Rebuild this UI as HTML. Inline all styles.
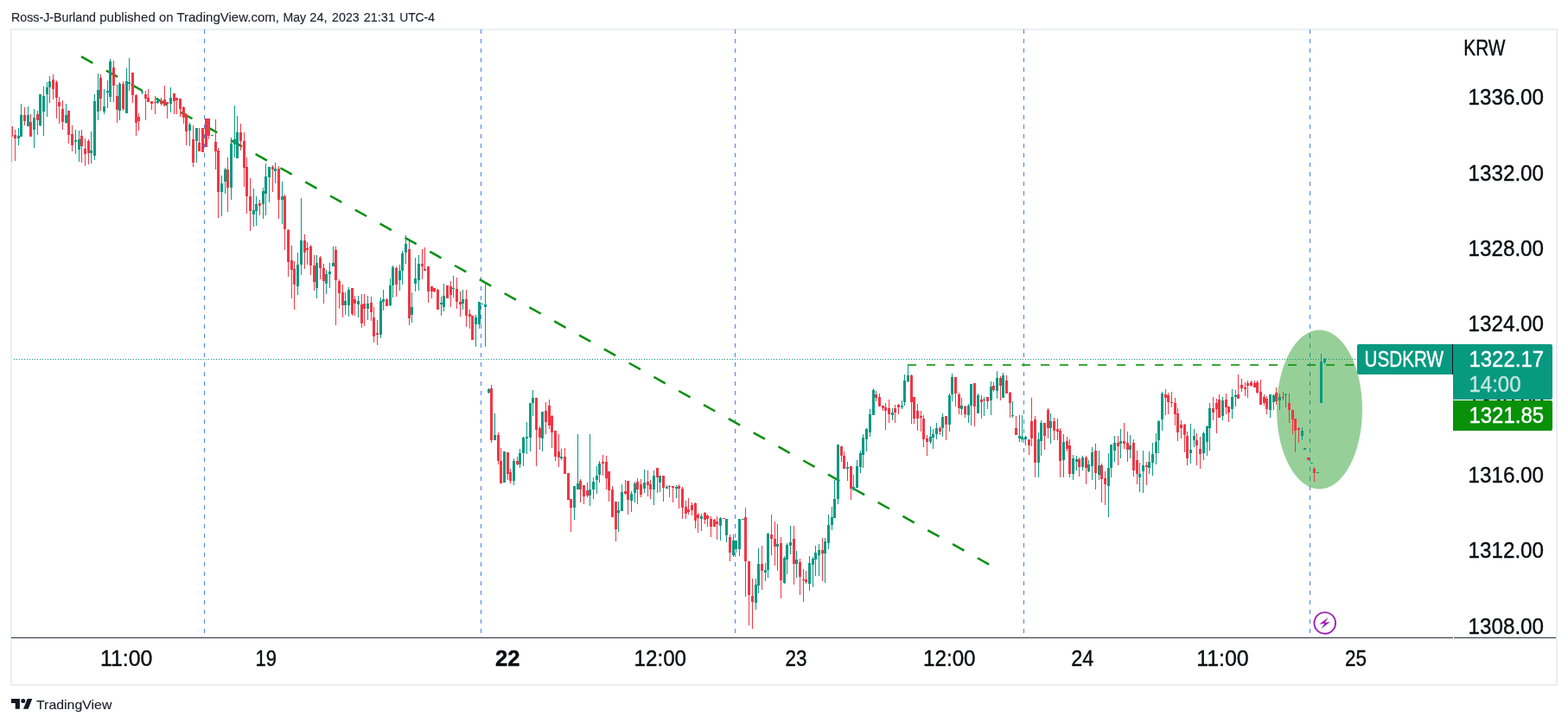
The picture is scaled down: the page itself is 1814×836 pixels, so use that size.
<!DOCTYPE html>
<html lang="en"><head><meta charset="utf-8"><title>USDKRW chart</title>
<style>
html,body{margin:0;padding:0;background:#fff;}
body{width:1814px;height:836px;overflow:hidden;font-family:"Liberation Sans",sans-serif;}
svg{display:block;}
text{font-family:"Liberation Sans",sans-serif;}
</style></head><body>
<svg width="1814" height="836" viewBox="0 0 1814 836" shape-rendering="crispEdges">
<rect width="1814" height="836" fill="#ffffff"/>
<text y="25.0" font-size="15.5" fill="#1e222d" stroke="#1e222d" stroke-width="0.15" shape-rendering="auto"><tspan x="13.0" textLength="98.0" lengthAdjust="spacingAndGlyphs">Ross-J-Burland</tspan> <tspan x="115.2" textLength="64.6" lengthAdjust="spacingAndGlyphs">published</tspan> <tspan x="184.0" textLength="16.5" lengthAdjust="spacingAndGlyphs">on</tspan> <tspan x="204.4" textLength="118.6" lengthAdjust="spacingAndGlyphs">TradingView.com,</tspan> <tspan x="327.5" textLength="26.6" lengthAdjust="spacingAndGlyphs">May</tspan> <tspan x="358.3" textLength="20.3" lengthAdjust="spacingAndGlyphs">24,</tspan> <tspan x="384.1" textLength="31.6" lengthAdjust="spacingAndGlyphs">2023</tspan> <tspan x="420.7" textLength="36.3" lengthAdjust="spacingAndGlyphs">21:31</tspan> <tspan x="462.2" textLength="40.7" lengthAdjust="spacingAndGlyphs">UTC-4</tspan></text>
<rect x="13" y="34" width="1788" height="758" fill="none" stroke="#eceef4" stroke-width="2"/>
<clipPath id="pane"><rect x="14" y="35" width="1667" height="702"/></clipPath>
<path d="M236.5 34V737" stroke="#4a83ea" stroke-width="1" stroke-dasharray="5 6" fill="none"/>
<path d="M556.5 34V737" stroke="#4a83ea" stroke-width="1" stroke-dasharray="5 6" fill="none"/>
<path d="M850.5 34V737" stroke="#4a83ea" stroke-width="1" stroke-dasharray="5 6" fill="none"/>
<path d="M1184.5 34V737" stroke="#4a83ea" stroke-width="1" stroke-dasharray="5 6" fill="none"/>
<path d="M1515.5 34V737" stroke="#4a83ea" stroke-width="1" stroke-dasharray="5 6" fill="none"/>
<g clip-path="url(#pane)">
<ellipse cx="1526.5" cy="473.5" rx="49.5" ry="92" fill="#4caf50" fill-opacity="0.59" shape-rendering="auto"/>
<path d="M94 65.4L1146.5 654" stroke="#078f10" stroke-width="2.5" stroke-dasharray="15.2 17.8" fill="none" shape-rendering="auto"/>
<path d="M1050 422H1570" stroke="#089208" stroke-opacity="0.8" stroke-width="2" stroke-dasharray="10 12" fill="none"/>
<path fill="#089981" d="M21 148h1V157h-1zM21 160h1V168h-1zM20 157h3V160h-3zM24 120h1V133h-1zM23 133h3V158h-3zM32 123h1V133h-1zM31 133h3V146h-3zM39 126h1V136h-1zM39 150h1V171h-1zM38 136h3V150h-3zM46 145h1V146h-1zM45 109h3V145h-3zM50 100h1V111h-1zM50 129h1V157h-1zM49 111h3V129h-3zM54 95h1V101h-1zM54 109h1V135h-1zM53 101h3V109h-3zM57 88h1V94h-1zM57 101h1V119h-1zM56 94h3V101h-3zM76 120h1V133h-1zM76 142h1V143h-1zM75 133h3V142h-3zM87 150h1V162h-1zM87 164h1V178h-1zM86 162h3V164h-3zM91 151h1V161h-1zM91 173h1V187h-1zM90 161h3V173h-3zM105 152h1V174h-1zM105 177h1V189h-1zM104 174h3V177h-3zM109 109h1V117h-1zM109 180h1V185h-1zM108 117h3V180h-3zM113 85h1V104h-1zM113 129h1V139h-1zM112 104h3V129h-3zM120 103h1V123h-1zM120 129h1V132h-1zM119 123h3V129h-3zM124 93h1V105h-1zM124 107h1V125h-1zM123 105h3V107h-3zM127 68h1V71h-1zM127 112h1V118h-1zM126 71h3V112h-3zM138 95h1V97h-1zM138 128h1V139h-1zM137 97h3V128h-3zM146 79h1V94h-1zM145 94h3V131h-3zM149 67h1V95h-1zM149 97h1V105h-1zM148 95h3V97h-3zM164 105h1V106h-1zM164 107h1V109h-1zM163 106h3V107h-3zM182 113h1V115h-1zM182 119h1V120h-1zM181 115h3V119h-3zM197 101h1V113h-1zM197 120h1V130h-1zM196 113h3V120h-3zM219 142h1V144h-1zM219 151h1V169h-1zM218 144h3V151h-3zM227 163h1V188h-1zM226 148h3V163h-3zM244 156h3V157h-3zM256 203h1V212h-1zM256 222h1V250h-1zM255 212h3V222h-3zM260 194h1V196h-1zM260 210h1V224h-1zM259 196h3V210h-3zM267 159h1V166h-1zM267 217h1V231h-1zM266 166h3V217h-3zM271 122h1V161h-1zM271 167h1V182h-1zM270 161h3V167h-3zM274 134h1V153h-1zM273 153h3V183h-3zM293 218h1V243h-1zM293 248h1V262h-1zM292 243h3V248h-3zM296 227h1V236h-1zM296 244h1V261h-1zM295 236h3V244h-3zM304 217h1V221h-1zM304 236h1V253h-1zM303 221h3V236h-3zM307 189h1V204h-1zM307 224h1V249h-1zM306 204h3V224h-3zM311 205h1V234h-1zM310 193h3V205h-3zM318 188h1V195h-1zM318 198h1V212h-1zM317 195h3V198h-3zM326 210h1V227h-1zM326 231h1V259h-1zM325 227h3V231h-3zM344 292h1V306h-1zM344 331h1V341h-1zM343 306h3V331h-3zM348 229h1V278h-1zM348 306h1V318h-1zM347 278h3V306h-3zM366 295h1V304h-1zM366 333h1V345h-1zM365 304h3V333h-3zM377 312h1V317h-1zM377 328h1V340h-1zM376 317h3V328h-3zM381 304h1V314h-1zM381 317h1V333h-1zM380 314h3V317h-3zM385 285h1V304h-1zM384 304h3V308h-3zM399 338h1V348h-1zM399 353h1V364h-1zM398 348h3V353h-3zM403 332h1V335h-1zM403 353h1V366h-1zM402 335h3V353h-3zM414 342h1V348h-1zM414 352h1V367h-1zM413 348h3V352h-3zM425 342h1V351h-1zM425 357h1V370h-1zM424 351h3V357h-3zM440 344h1V348h-1zM440 387h1V391h-1zM439 348h3V387h-3zM443 335h1V346h-1zM443 349h1V359h-1zM442 346h3V349h-3zM451 322h1V330h-1zM451 353h1V354h-1zM450 330h3V353h-3zM454 307h1V309h-1zM454 330h1V344h-1zM453 309h3V330h-3zM462 306h1V313h-1zM462 324h1V336h-1zM461 313h3V324h-3zM465 290h1V293h-1zM465 313h1V329h-1zM464 293h3V313h-3zM469 272h1V282h-1zM469 292h1V305h-1zM468 282h3V292h-3zM476 338h1V355h-1zM476 364h1V373h-1zM475 355h3V364h-3zM480 298h1V322h-1zM480 328h1V337h-1zM479 322h3V328h-3zM484 295h1V305h-1zM484 324h1V336h-1zM483 305h3V324h-3zM510 343h1V350h-1zM510 352h1V365h-1zM509 350h3V352h-3zM513 328h1V342h-1zM513 355h1V360h-1zM512 342h3V355h-3zM524 319h1V333h-1zM524 334h1V344h-1zM523 333h3V334h-3zM535 335h1V346h-1zM535 351h1V358h-1zM534 346h3V351h-3zM550 364h1V367h-1zM550 375h1V401h-1zM549 367h3V375h-3zM554 375h1V380h-1zM553 349h3V375h-3zM556 351h3V352h-3zM561 326h1V352h-1zM561 355h1V401h-1zM560 352h3V355h-3zM565 449h1V450h-1zM565 454h1V455h-1zM564 450h3V454h-3zM572 478h1V503h-1zM571 503h3V509h-3zM582 522h3V558h-3zM594 530h1V533h-1zM594 556h1V561h-1zM593 533h3V556h-3zM601 519h1V524h-1zM601 537h1V541h-1zM600 524h3V537h-3zM605 505h1V506h-1zM605 524h1V539h-1zM604 506h3V524h-3zM609 488h1V505h-1zM609 507h1V525h-1zM608 505h3V507h-3zM613 506h1V522h-1zM612 466h3V506h-3zM616 451h1V460h-1zM616 466h1V481h-1zM615 460h3V466h-3zM627 507h1V522h-1zM626 476h3V507h-3zM649 519h1V528h-1zM649 530h1V532h-1zM648 528h3V530h-3zM664 587h1V601h-1zM663 562h3V587h-3zM668 502h1V559h-1zM667 559h3V566h-3zM682 502h1V566h-1zM682 573h1V585h-1zM681 566h3V573h-3zM686 552h1V557h-1zM686 566h1V577h-1zM685 557h3V566h-3zM690 539h1V550h-1zM690 555h1V571h-1zM689 550h3V555h-3zM693 533h1V536h-1zM693 549h1V558h-1zM692 536h3V549h-3zM715 580h1V590h-1zM715 593h1V615h-1zM714 590h3V593h-3zM719 560h1V569h-1zM718 569h3V591h-3zM730 568h1V571h-1zM730 579h1V592h-1zM729 571h3V579h-3zM734 557h1V559h-1zM734 570h1V581h-1zM733 559h3V570h-3zM745 543h1V558h-1zM745 565h1V570h-1zM744 558h3V565h-3zM756 544h1V550h-1zM756 566h1V584h-1zM755 550h3V566h-3zM763 558h1V569h-1zM762 550h3V558h-3zM771 561h1V563h-1zM770 563h3V565h-3zM782 561h1V563h-1zM782 565h1V576h-1zM781 563h3V565h-3zM811 594h1V597h-1zM811 600h1V614h-1zM810 597h3V600h-3zM833 598h1V599h-1zM833 608h1V625h-1zM832 599h3V608h-3zM840 619h1V627h-1zM839 600h3V619h-3zM848 618h1V625h-1zM848 642h1V644h-1zM847 625h3V642h-3zM851 635h1V639h-1zM850 625h3V635h-3zM855 635h1V643h-1zM854 600h3V635h-3zM858 600h3V601h-3zM874 669h1V676h-1zM874 697h1V705h-1zM873 676h3V697h-3zM877 634h1V652h-1zM877 677h1V686h-1zM876 652h3V677h-3zM885 651h1V659h-1zM885 662h1V672h-1zM884 659h3V662h-3zM888 616h1V617h-1zM888 659h1V668h-1zM887 617h3V659h-3zM899 606h1V629h-1zM899 632h1V660h-1zM898 629h3V632h-3zM907 643h1V645h-1zM907 674h1V675h-1zM906 645h3V674h-3zM910 628h1V630h-1zM910 647h1V664h-1zM909 630h3V647h-3zM914 608h1V627h-1zM914 631h1V641h-1zM913 627h3V631h-3zM921 637h1V647h-1zM921 652h1V668h-1zM920 647h3V652h-3zM936 643h1V651h-1zM936 675h1V683h-1zM935 651h3V675h-3zM940 644h1V646h-1zM940 653h1V679h-1zM939 646h3V653h-3zM943 631h1V639h-1zM943 647h1V666h-1zM942 639h3V647h-3zM947 629h1V636h-1zM947 642h1V666h-1zM946 636h3V642h-3zM954 622h1V626h-1zM954 640h1V674h-1zM953 626h3V640h-3zM958 595h1V607h-1zM958 628h1V635h-1zM957 607h3V628h-3zM962 586h1V598h-1zM962 607h1V613h-1zM961 598h3V607h-3zM965 555h1V577h-1zM964 577h3V599h-3zM969 577h1V583h-1zM968 514h3V577h-3zM980 534h1V540h-1zM980 542h1V556h-1zM979 540h3V542h-3zM987 549h1V563h-1zM986 563h3V567h-3zM991 532h1V539h-1zM990 539h3V564h-3zM995 521h1V524h-1zM995 540h1V547h-1zM994 524h3V540h-3zM998 502h1V506h-1zM998 526h1V541h-1zM997 506h3V526h-3zM1002 495h1V496h-1zM1002 508h1V522h-1zM1001 496h3V508h-3zM1006 473h1V479h-1zM1006 500h1V505h-1zM1005 479h3V500h-3zM1010 449h1V451h-1zM1009 451h3V480h-3zM1032 472h1V477h-1zM1032 480h1V486h-1zM1031 477h3V480h-3zM1043 463h1V469h-1zM1043 471h1V473h-1zM1042 469h3V471h-3zM1046 433h1V440h-1zM1046 465h1V469h-1zM1045 440h3V465h-3zM1050 421h1V434h-1zM1050 441h1V442h-1zM1049 434h3V441h-3zM1076 493h1V505h-1zM1076 511h1V513h-1zM1075 505h3V511h-3zM1079 496h1V502h-1zM1079 506h1V519h-1zM1078 502h3V506h-3zM1083 489h1V495h-1zM1083 502h1V508h-1zM1082 495h3V502h-3zM1090 478h1V482h-1zM1090 495h1V505h-1zM1089 482h3V495h-3zM1098 455h1V457h-1zM1098 491h1V499h-1zM1097 457h3V491h-3zM1101 432h1V436h-1zM1101 456h1V464h-1zM1100 436h3V456h-3zM1112 460h1V469h-1zM1112 473h1V480h-1zM1111 469h3V473h-3zM1120 467h1V469h-1zM1120 480h1V489h-1zM1119 469h3V480h-3zM1123 469h1V492h-1zM1122 444h3V469h-3zM1131 455h1V457h-1zM1130 457h3V478h-3zM1138 459h1V462h-1zM1138 463h1V481h-1zM1137 462h3V463h-3zM1146 441h1V447h-1zM1146 463h1V480h-1zM1145 447h3V463h-3zM1153 429h1V437h-1zM1153 452h1V461h-1zM1152 437h3V452h-3zM1160 431h1V434h-1zM1159 434h3V460h-3zM1171 464h1V480h-1zM1171 481h1V483h-1zM1170 480h3V481h-3zM1179 480h1V504h-1zM1179 507h1V511h-1zM1178 504h3V507h-3zM1182 480h1V505h-1zM1182 508h1V511h-1zM1181 505h3V508h-3zM1186 504h1V505h-1zM1186 508h1V515h-1zM1185 505h3V508h-3zM1201 500h1V508h-1zM1201 535h1V552h-1zM1200 508h3V535h-3zM1204 486h1V489h-1zM1204 510h1V527h-1zM1203 489h3V510h-3zM1215 478h1V487h-1zM1215 495h1V513h-1zM1214 487h3V495h-3zM1230 502h1V511h-1zM1230 532h1V552h-1zM1229 511h3V532h-3zM1241 526h1V530h-1zM1241 548h1V555h-1zM1240 530h3V548h-3zM1245 527h1V531h-1zM1245 534h1V544h-1zM1244 531h3V534h-3zM1252 527h1V529h-1zM1252 540h1V544h-1zM1251 529h3V540h-3zM1259 532h1V537h-1zM1259 545h1V546h-1zM1258 537h3V545h-3zM1263 517h1V523h-1zM1263 539h1V555h-1zM1262 523h3V539h-3zM1271 521h1V538h-1zM1271 549h1V555h-1zM1270 538h3V549h-3zM1282 524h1V541h-1zM1282 562h1V598h-1zM1281 541h3V562h-3zM1285 541h1V552h-1zM1284 514h3V541h-3zM1289 504h1V512h-1zM1289 521h1V534h-1zM1288 512h3V521h-3zM1296 496h1V510h-1zM1296 513h1V530h-1zM1295 510h3V513h-3zM1307 503h1V515h-1zM1307 520h1V530h-1zM1306 515h3V520h-3zM1318 535h1V548h-1zM1318 552h1V569h-1zM1317 548h3V552h-3zM1322 521h1V538h-1zM1322 545h1V570h-1zM1321 538h3V545h-3zM1329 522h1V534h-1zM1329 541h1V548h-1zM1328 534h3V541h-3zM1333 512h1V525h-1zM1333 535h1V550h-1zM1332 525h3V535h-3zM1337 501h1V511h-1zM1337 524h1V537h-1zM1336 511h3V524h-3zM1340 486h1V487h-1zM1340 509h1V524h-1zM1339 487h3V509h-3zM1344 453h1V455h-1zM1344 485h1V498h-1zM1343 455h3V485h-3zM1377 490h1V520h-1zM1377 524h1V536h-1zM1376 520h3V524h-3zM1381 496h1V504h-1zM1381 509h1V517h-1zM1380 504h3V509h-3zM1392 499h1V501h-1zM1392 524h1V532h-1zM1391 501h3V524h-3zM1396 492h1V493h-1zM1396 511h1V527h-1zM1395 493h3V511h-3zM1399 466h1V472h-1zM1399 495h1V521h-1zM1398 472h3V495h-3zM1414 459h1V463h-1zM1414 481h1V486h-1zM1413 463h3V481h-3zM1425 450h1V459h-1zM1425 473h1V484h-1zM1424 459h3V473h-3zM1429 451h1V457h-1zM1429 459h1V470h-1zM1428 457h3V459h-3zM1469 474h1V483h-1zM1468 456h3V474h-3zM1473 456h1V457h-1zM1473 465h1V474h-1zM1472 457h3V465h-3zM1480 455h1V459h-1zM1480 463h1V474h-1zM1479 459h3V463h-3zM1487 455h1V456h-1zM1487 457h1V471h-1zM1486 456h3V457h-3zM1506 494h1V498h-1zM1506 504h1V509h-1zM1505 498h3V504h-3zM1508 518h3V520h-3zM1516 535h3V536h-3zM1523 546h3V547h-3zM1528 409h1V418h-1zM1527 418h3V466h-3zM1532 414h1V415h-1zM1532 419h1V421h-1zM1531 415h3V419h-3z"/>
<path fill="#f23645" d="M17 150h1V156h-1zM17 160h1V186h-1zM16 156h3V160h-3zM28 124h1V133h-1zM28 140h1V145h-1zM27 133h3V140h-3zM35 132h1V141h-1zM34 141h3V158h-3zM43 128h1V132h-1zM43 139h1V156h-1zM42 132h3V139h-3zM61 86h1V92h-1zM61 103h1V115h-1zM60 92h3V103h-3zM65 93h1V95h-1zM65 113h1V137h-1zM64 95h3V113h-3zM68 112h1V118h-1zM68 123h1V143h-1zM67 118h3V123h-3zM72 116h1V126h-1zM72 141h1V150h-1zM71 126h3V141h-3zM79 156h1V166h-1zM78 128h3V156h-3zM83 145h1V155h-1zM83 168h1V175h-1zM82 155h3V168h-3zM94 150h1V157h-1zM94 169h1V188h-1zM93 157h3V169h-3zM98 160h1V172h-1zM98 178h1V192h-1zM97 172h3V178h-3zM102 161h1V163h-1zM102 177h1V190h-1zM101 163h3V177h-3zM116 86h1V90h-1zM116 114h1V128h-1zM115 90h3V114h-3zM131 70h1V78h-1zM131 99h1V118h-1zM130 78h3V99h-3zM135 98h1V111h-1zM135 127h1V142h-1zM134 111h3V127h-3zM142 94h1V97h-1zM142 126h1V128h-1zM141 97h3V126h-3zM153 110h1V119h-1zM152 84h3V110h-3zM157 109h1V110h-1zM157 142h1V157h-1zM156 110h3V142h-3zM160 131h1V135h-1zM160 140h1V151h-1zM159 135h3V140h-3zM168 105h1V109h-1zM168 114h1V139h-1zM167 109h3V114h-3zM171 103h1V113h-1zM170 113h3V118h-3zM175 120h1V127h-1zM174 117h3V120h-3zM179 111h1V118h-1zM179 119h1V132h-1zM178 118h3V119h-3zM186 113h1V116h-1zM186 120h1V122h-1zM185 116h3V120h-3zM190 99h1V115h-1zM190 122h1V123h-1zM189 115h3V122h-3zM193 120h1V137h-1zM192 118h3V120h-3zM201 117h1V132h-1zM200 108h3V117h-3zM204 116h1V132h-1zM203 113h3V116h-3zM208 126h1V135h-1zM207 114h3V126h-3zM212 123h1V124h-1zM212 136h1V143h-1zM211 124h3V136h-3zM215 131h1V134h-1zM215 152h1V168h-1zM214 134h3V152h-3zM223 145h1V161h-1zM223 188h1V193h-1zM222 161h3V188h-3zM230 148h1V165h-1zM229 165h3V175h-3zM233 148h3V176h-3zM237 137h3V170h-3zM241 157h1V161h-1zM240 137h3V157h-3zM249 138h1V164h-1zM249 175h1V196h-1zM248 164h3V175h-3zM252 171h1V174h-1zM252 222h1V252h-1zM251 174h3V222h-3zM263 182h1V196h-1zM263 217h1V245h-1zM262 196h3V217h-3zM278 143h1V153h-1zM278 163h1V174h-1zM277 153h3V163h-3zM282 153h1V163h-1zM282 194h1V216h-1zM281 163h3V194h-3zM285 182h1V193h-1zM285 227h1V247h-1zM284 193h3V227h-3zM289 206h1V227h-1zM289 244h1V267h-1zM288 227h3V244h-3zM300 231h1V235h-1zM300 238h1V249h-1zM299 235h3V238h-3zM315 191h1V193h-1zM315 196h1V222h-1zM314 193h3V196h-3zM322 192h1V195h-1zM322 231h1V253h-1zM321 195h3V231h-3zM329 225h1V227h-1zM329 265h1V289h-1zM328 227h3V265h-3zM333 265h1V266h-1zM333 303h1V320h-1zM332 266h3V303h-3zM337 284h1V301h-1zM337 312h1V345h-1zM336 301h3V312h-3zM340 302h1V311h-1zM340 329h1V358h-1zM339 311h3V329h-3zM352 271h1V278h-1zM352 292h1V311h-1zM351 278h3V292h-3zM355 280h1V287h-1zM355 289h1V306h-1zM354 287h3V289h-3zM359 283h1V285h-1zM359 307h1V318h-1zM358 285h3V307h-3zM363 295h1V307h-1zM363 326h1V336h-1zM362 307h3V326h-3zM370 296h1V298h-1zM370 310h1V323h-1zM369 298h3V310h-3zM374 305h1V310h-1zM374 325h1V351h-1zM373 310h3V325h-3zM388 285h1V289h-1zM388 324h1V376h-1zM387 289h3V324h-3zM392 323h1V325h-1zM392 339h1V357h-1zM391 325h3V339h-3zM396 329h1V338h-1zM396 353h1V367h-1zM395 338h3V353h-3zM407 363h1V365h-1zM406 333h3V363h-3zM410 342h1V346h-1zM410 351h1V365h-1zM409 346h3V351h-3zM418 340h1V352h-1zM418 374h1V379h-1zM417 352h3V374h-3zM421 340h1V351h-1zM421 357h1V377h-1zM420 351h3V357h-3zM429 343h1V350h-1zM429 361h1V371h-1zM428 350h3V361h-3zM432 355h1V367h-1zM432 389h1V396h-1zM431 367h3V389h-3zM436 370h1V385h-1zM436 387h1V399h-1zM435 385h3V387h-3zM447 345h1V346h-1zM446 346h3V354h-3zM458 308h1V310h-1zM458 329h1V343h-1zM457 310h3V329h-3zM473 279h1V288h-1zM473 368h1V376h-1zM472 288h3V368h-3zM488 288h1V305h-1zM488 308h1V323h-1zM487 305h3V308h-3zM491 286h1V311h-1zM490 311h3V313h-3zM495 337h1V350h-1zM494 308h3V337h-3zM499 337h1V345h-1zM498 331h3V337h-3zM502 337h1V338h-1zM501 333h3V337h-3zM506 334h1V335h-1zM505 335h3V358h-3zM516 330h3V345h-3zM521 325h1V331h-1zM521 341h1V355h-1zM520 331h3V341h-3zM528 321h1V334h-1zM528 349h1V357h-1zM527 334h3V349h-3zM532 337h1V349h-1zM532 352h1V366h-1zM531 349h3V352h-3zM539 335h1V346h-1zM539 365h1V378h-1zM538 346h3V365h-3zM543 358h1V363h-1zM543 366h1V380h-1zM542 363h3V366h-3zM545 365h3V393h-3zM568 445h1V449h-1zM568 509h1V512h-1zM567 449h3V509h-3zM576 500h1V503h-1zM576 533h1V537h-1zM575 503h3V533h-3zM579 518h1V533h-1zM578 533h3V559h-3zM587 548h1V555h-1zM586 523h3V548h-3zM590 542h1V546h-1zM590 556h1V559h-1zM589 546h3V556h-3zM598 528h1V533h-1zM598 537h1V538h-1zM597 533h3V537h-3zM620 497h1V539h-1zM619 460h3V497h-3zM624 493h1V495h-1zM624 506h1V520h-1zM623 495h3V506h-3zM631 465h1V475h-1zM631 488h1V502h-1zM630 475h3V488h-3zM635 462h1V469h-1zM635 492h1V496h-1zM634 469h3V492h-3zM638 480h1V481h-1zM638 500h1V518h-1zM637 481h3V500h-3zM642 528h1V533h-1zM641 498h3V528h-3zM646 502h1V522h-1zM646 529h1V540h-1zM645 522h3V529h-3zM653 518h1V528h-1zM652 528h3V548h-3zM656 547h3V578h-3zM660 587h1V615h-1zM659 577h3V587h-3zM671 554h1V556h-1zM671 566h1V581h-1zM670 556h3V566h-3zM675 574h1V583h-1zM674 561h3V574h-3zM679 558h1V567h-1zM679 573h1V575h-1zM678 567h3V573h-3zM697 526h1V534h-1zM697 536h1V550h-1zM696 534h3V536h-3zM701 527h1V534h-1zM701 553h1V566h-1zM700 534h3V553h-3zM704 567h1V580h-1zM703 545h3V567h-3zM708 562h1V566h-1zM707 566h3V598h-3zM712 612h1V626h-1zM711 580h3V612h-3zM723 555h1V568h-1zM723 571h1V572h-1zM722 568h3V571h-3zM726 578h1V595h-1zM725 556h3V578h-3zM737 553h1V557h-1zM737 566h1V583h-1zM736 557h3V566h-3zM741 554h1V560h-1zM741 572h1V575h-1zM740 560h3V572h-3zM749 544h1V557h-1zM749 561h1V574h-1zM748 557h3V561h-3zM752 555h1V560h-1zM752 566h1V577h-1zM751 560h3V566h-3zM760 552h1V570h-1zM759 541h3V552h-3zM767 564h1V580h-1zM766 550h3V564h-3zM774 561h1V562h-1zM774 563h1V575h-1zM773 562h3V563h-3zM778 564h1V581h-1zM777 562h3V564h-3zM785 560h1V562h-1zM785 565h1V588h-1zM784 562h3V565h-3zM789 563h1V565h-1zM789 587h1V600h-1zM788 565h3V587h-3zM793 579h1V586h-1zM793 594h1V600h-1zM792 586h3V594h-3zM796 576h1V589h-1zM796 592h1V595h-1zM795 589h3V592h-3zM800 581h1V584h-1zM800 590h1V596h-1zM799 584h3V590h-3zM804 581h1V582h-1zM804 602h1V611h-1zM803 582h3V602h-3zM807 593h1V595h-1zM807 599h1V616h-1zM806 595h3V599h-3zM815 592h1V593h-1zM815 601h1V606h-1zM814 593h3V601h-3zM818 595h1V596h-1zM818 600h1V609h-1zM817 596h3V600h-3zM822 597h1V600h-1zM822 609h1V621h-1zM821 600h3V609h-3zM826 600h1V601h-1zM825 601h3V609h-3zM829 597h1V603h-1zM829 606h1V624h-1zM828 603h3V606h-3zM836 599h3V600h-3zM844 618h1V621h-1zM844 639h1V649h-1zM843 621h3V639h-3zM862 587h1V598h-1zM862 649h1V690h-1zM861 598h3V649h-3zM866 688h1V723h-1zM865 649h3V688h-3zM870 669h1V689h-1zM870 696h1V727h-1zM869 689h3V696h-3zM881 631h1V652h-1zM881 660h1V682h-1zM880 652h3V660h-3zM892 595h1V618h-1zM892 623h1V642h-1zM891 618h3V623h-3zM896 603h1V623h-1zM896 632h1V654h-1zM895 623h3V632h-3zM903 621h1V628h-1zM903 671h1V692h-1zM902 628h3V671h-3zM918 608h1V623h-1zM918 652h1V676h-1zM917 623h3V652h-3zM925 646h1V650h-1zM925 667h1V688h-1zM924 650h3V667h-3zM929 658h1V670h-1zM929 671h1V696h-1zM928 670h3V671h-3zM932 660h1V670h-1zM932 673h1V675h-1zM931 670h3V673h-3zM951 622h1V636h-1zM951 640h1V672h-1zM950 636h3V640h-3zM973 527h1V534h-1zM972 516h3V527h-3zM976 522h1V527h-1zM975 527h3V542h-3zM984 565h1V578h-1zM983 539h3V565h-3zM1013 452h1V456h-1zM1013 460h1V464h-1zM1012 456h3V460h-3zM1017 455h1V459h-1zM1016 459h3V470h-3zM1021 472h1V475h-1zM1020 469h3V472h-3zM1024 466h1V471h-1zM1024 475h1V497h-1zM1023 471h3V475h-3zM1028 462h1V472h-1zM1028 479h1V489h-1zM1027 472h3V479h-3zM1035 468h1V472h-1zM1035 477h1V489h-1zM1034 472h3V477h-3zM1039 467h1V468h-1zM1039 471h1V479h-1zM1038 468h3V471h-3zM1054 433h1V434h-1zM1054 465h1V490h-1zM1053 434h3V465h-3zM1057 484h1V490h-1zM1056 459h3V484h-3zM1061 467h1V475h-1zM1061 484h1V498h-1zM1060 475h3V484h-3zM1065 475h1V481h-1zM1065 483h1V499h-1zM1064 481h3V483h-3zM1068 480h1V484h-1zM1068 508h1V517h-1zM1067 484h3V508h-3zM1072 503h1V507h-1zM1072 511h1V527h-1zM1071 507h3V511h-3zM1087 493h1V495h-1zM1087 499h1V503h-1zM1086 495h3V499h-3zM1094 491h1V509h-1zM1093 481h3V491h-3zM1105 455h1V470h-1zM1104 436h3V455h-3zM1109 454h1V456h-1zM1109 472h1V479h-1zM1108 456h3V472h-3zM1116 469h1V470h-1zM1116 479h1V483h-1zM1115 470h3V479h-3zM1127 470h1V493h-1zM1126 443h3V470h-3zM1135 457h1V462h-1zM1135 465h1V484h-1zM1134 462h3V465h-3zM1142 464h1V473h-1zM1141 459h3V464h-3zM1149 442h1V446h-1zM1149 451h1V453h-1zM1148 446h3V451h-3zM1157 435h1V437h-1zM1157 446h1V463h-1zM1156 437h3V446h-3zM1164 434h1V440h-1zM1163 440h3V455h-3zM1168 453h1V454h-1zM1168 466h1V483h-1zM1167 454h3V466h-3zM1175 481h1V495h-1zM1174 495h3V503h-3zM1190 515h1V526h-1zM1189 508h3V515h-3zM1193 460h1V487h-1zM1193 507h1V516h-1zM1192 487h3V507h-3zM1197 481h1V485h-1zM1197 535h1V552h-1zM1196 485h3V535h-3zM1208 504h1V520h-1zM1207 489h3V504h-3zM1212 472h1V474h-1zM1212 495h1V507h-1zM1211 474h3V495h-3zM1219 483h1V487h-1zM1219 498h1V509h-1zM1218 487h3V498h-3zM1223 484h1V496h-1zM1223 499h1V509h-1zM1222 496h3V499h-3zM1226 495h1V498h-1zM1226 533h1V552h-1zM1225 498h3V533h-3zM1234 505h1V510h-1zM1234 519h1V522h-1zM1233 510h3V519h-3zM1237 508h1V515h-1zM1237 548h1V552h-1zM1236 515h3V548h-3zM1248 529h1V531h-1zM1248 540h1V551h-1zM1247 531h3V540h-3zM1256 527h1V529h-1zM1256 541h1V560h-1zM1255 529h3V541h-3zM1267 513h1V521h-1zM1267 547h1V566h-1zM1266 521h3V547h-3zM1274 536h1V538h-1zM1274 554h1V581h-1zM1273 538h3V554h-3zM1278 545h1V553h-1zM1278 560h1V584h-1zM1277 553h3V560h-3zM1293 504h1V512h-1zM1293 516h1V538h-1zM1292 512h3V516h-3zM1300 489h1V510h-1zM1300 513h1V519h-1zM1299 510h3V513h-3zM1304 499h1V512h-1zM1304 520h1V534h-1zM1303 512h3V520h-3zM1311 508h1V512h-1zM1311 544h1V551h-1zM1310 512h3V544h-3zM1315 521h1V532h-1zM1315 548h1V560h-1zM1314 532h3V548h-3zM1326 534h1V538h-1zM1326 540h1V561h-1zM1325 538h3V540h-3zM1348 450h1V456h-1zM1348 460h1V480h-1zM1347 456h3V460h-3zM1351 454h1V457h-1zM1351 465h1V479h-1zM1350 457h3V465h-3zM1355 453h1V465h-1zM1355 466h1V471h-1zM1354 465h3V466h-3zM1359 460h1V466h-1zM1359 479h1V492h-1zM1358 466h3V479h-3zM1362 472h1V478h-1zM1362 500h1V510h-1zM1361 478h3V500h-3zM1366 486h1V491h-1zM1366 495h1V507h-1zM1365 491h3V495h-3zM1370 490h1V491h-1zM1370 503h1V523h-1zM1369 491h3V503h-3zM1373 499h1V504h-1zM1373 530h1V538h-1zM1372 504h3V530h-3zM1384 501h1V509h-1zM1384 515h1V538h-1zM1383 509h3V515h-3zM1388 505h1V519h-1zM1388 525h1V542h-1zM1387 519h3V525h-3zM1403 459h1V472h-1zM1403 477h1V486h-1zM1402 472h3V477h-3zM1407 461h1V466h-1zM1407 473h1V501h-1zM1406 466h3V473h-3zM1410 456h1V462h-1zM1409 462h3V483h-3zM1418 455h1V462h-1zM1418 471h1V479h-1zM1417 462h3V471h-3zM1421 477h1V488h-1zM1420 470h3V477h-3zM1432 433h1V456h-1zM1431 456h3V461h-3zM1436 438h1V445h-1zM1436 449h1V453h-1zM1435 445h3V449h-3zM1440 442h1V448h-1zM1440 450h1V458h-1zM1439 448h3V450h-3zM1443 440h1V443h-1zM1443 446h1V460h-1zM1442 443h3V446h-3zM1447 440h1V442h-1zM1447 446h1V447h-1zM1446 442h3V446h-3zM1451 440h1V443h-1zM1450 443h3V448h-3zM1454 440h1V442h-1zM1454 454h1V455h-1zM1453 442h3V454h-3zM1458 439h1V453h-1zM1457 453h3V468h-3zM1462 456h1V459h-1zM1462 466h1V469h-1zM1461 459h3V466h-3zM1465 458h1V461h-1zM1465 473h1V479h-1zM1464 461h3V473h-3zM1476 448h1V454h-1zM1476 464h1V468h-1zM1475 454h3V464h-3zM1484 453h1V459h-1zM1484 460h1V463h-1zM1483 459h3V460h-3zM1491 455h1V466h-1zM1491 474h1V489h-1zM1490 466h3V474h-3zM1495 485h1V502h-1zM1494 474h3V485h-3zM1498 498h1V523h-1zM1497 484h3V498h-3zM1502 494h1V495h-1zM1502 497h1V512h-1zM1501 495h3V497h-3zM1512 529h3V532h-3zM1520 540h1V542h-1zM1520 547h1V557h-1zM1519 542h3V547h-3z"/>
<rect x="14" y="146" width="1" height="12" fill="#f23645"/>
<path d="M14 415.5H1570" stroke="#089981" stroke-width="1" stroke-dasharray="1 2" stroke-dashoffset="-2" fill="none"/>
</g>
<rect x="13" y="146" width="1" height="41" fill="#f5939c"/>
<clipPath id="ell"><ellipse cx="1526.5" cy="473.5" rx="49.5" ry="92"/></clipPath>
<path d="M1515.5 34V737" stroke="#1d8a86" stroke-opacity="0.75" stroke-width="1" stroke-dasharray="5 6" fill="none" clip-path="url(#ell)"/>
<g shape-rendering="auto" fill="none" stroke="#9a24b2">
<circle cx="1532.75" cy="720.4" r="12.3" stroke-width="1.9"/>
<path d="M1536.8 713.7L1526.2 721.7L1532.3 721.1L1528.3 727.2L1538.9 719.1L1532.9 719.7z" fill="#9a24b2" stroke="none"/>
</g>
<rect x="13" y="737" width="1668" height="1" fill="#2a2e39"/>
<rect x="1682" y="737" width="118" height="1" fill="#2a2e39"/>
<text x="1693.3" y="64.0" font-size="25.8" fill="#0b0d13" stroke="#0b0d13" stroke-width="0.4" font-weight="normal" textLength="48.2" lengthAdjust="spacingAndGlyphs" shape-rendering="auto">KRW</text>
<text x="1698.6" y="121.2" font-size="25.2" fill="#0b0d13" stroke="#0b0d13" stroke-width="0.4" font-weight="normal" textLength="87.4" lengthAdjust="spacingAndGlyphs" shape-rendering="auto">1336.00</text>
<text x="1698.6" y="208.56" font-size="25.2" fill="#0b0d13" stroke="#0b0d13" stroke-width="0.4" font-weight="normal" textLength="87.4" lengthAdjust="spacingAndGlyphs" shape-rendering="auto">1332.00</text>
<text x="1698.6" y="295.92" font-size="25.2" fill="#0b0d13" stroke="#0b0d13" stroke-width="0.4" font-weight="normal" textLength="87.4" lengthAdjust="spacingAndGlyphs" shape-rendering="auto">1328.00</text>
<text x="1698.6" y="383.28" font-size="25.2" fill="#0b0d13" stroke="#0b0d13" stroke-width="0.4" font-weight="normal" textLength="87.4" lengthAdjust="spacingAndGlyphs" shape-rendering="auto">1324.00</text>
<text x="1698.6" y="470.64" font-size="25.2" fill="#0b0d13" stroke="#0b0d13" stroke-width="0.4" font-weight="normal" textLength="87.4" lengthAdjust="spacingAndGlyphs" shape-rendering="auto">1320.00</text>
<text x="1698.6" y="558.0" font-size="25.2" fill="#0b0d13" stroke="#0b0d13" stroke-width="0.4" font-weight="normal" textLength="87.4" lengthAdjust="spacingAndGlyphs" shape-rendering="auto">1316.00</text>
<text x="1698.6" y="645.36" font-size="25.2" fill="#0b0d13" stroke="#0b0d13" stroke-width="0.4" font-weight="normal" textLength="87.4" lengthAdjust="spacingAndGlyphs" shape-rendering="auto">1312.00</text>
<text x="1698.6" y="732.72" font-size="25.2" fill="#0b0d13" stroke="#0b0d13" stroke-width="0.4" font-weight="normal" textLength="87.4" lengthAdjust="spacingAndGlyphs" shape-rendering="auto">1308.00</text>
<text x="115.94999999999999" y="770.2" font-size="25.2" fill="#0b0d13" stroke="#0b0d13" stroke-width="0.4" font-weight="normal" textLength="60.5" lengthAdjust="spacingAndGlyphs" shape-rendering="auto">11:00</text>
<text x="295.55" y="770.2" font-size="25.2" fill="#0b0d13" stroke="#0b0d13" stroke-width="0.4" font-weight="normal" textLength="24.5" lengthAdjust="spacingAndGlyphs" shape-rendering="auto">19</text>
<text x="572.95" y="770.2" font-size="25.2" fill="#0b0d13" stroke="#0b0d13" stroke-width="0.4" font-weight="bold" textLength="28.5" lengthAdjust="spacingAndGlyphs" shape-rendering="auto">22</text>
<text x="733.55" y="770.2" font-size="25.2" fill="#0b0d13" stroke="#0b0d13" stroke-width="0.4" font-weight="normal" textLength="60.5" lengthAdjust="spacingAndGlyphs" shape-rendering="auto">12:00</text>
<text x="908.4" y="770.2" font-size="25.2" fill="#0b0d13" stroke="#0b0d13" stroke-width="0.4" font-weight="normal" textLength="25" lengthAdjust="spacingAndGlyphs" shape-rendering="auto">23</text>
<text x="1068.05" y="770.2" font-size="25.2" fill="#0b0d13" stroke="#0b0d13" stroke-width="0.4" font-weight="normal" textLength="60.5" lengthAdjust="spacingAndGlyphs" shape-rendering="auto">12:00</text>
<text x="1239.2" y="770.2" font-size="25.2" fill="#0b0d13" stroke="#0b0d13" stroke-width="0.4" font-weight="normal" textLength="26" lengthAdjust="spacingAndGlyphs" shape-rendering="auto">24</text>
<text x="1384.15" y="770.2" font-size="25.2" fill="#0b0d13" stroke="#0b0d13" stroke-width="0.4" font-weight="normal" textLength="60.5" lengthAdjust="spacingAndGlyphs" shape-rendering="auto">11:00</text>
<text x="1555.9" y="770.2" font-size="25.2" fill="#0b0d13" stroke="#0b0d13" stroke-width="0.4" font-weight="normal" textLength="25" lengthAdjust="spacingAndGlyphs" shape-rendering="auto">25</text>
<path d="M1572 398H1681V433H1572a2 2 0 0 1-2-2V400a2 2 0 0 1 2-2z" fill="#089981" shape-rendering="auto"/>
<path d="M1681 398H1794a2 2 0 0 1 2 2V460a2 2 0 0 1-2 2H1681z" fill="#089981" shape-rendering="auto"/>
<rect x="1680" y="398" width="1" height="35" fill="#131722"/>
<path d="M1681 463H1794a2 2 0 0 1 2 2V496a2 2 0 0 1-2 2H1681z" fill="#089109" shape-rendering="auto"/>
<text x="1578.5" y="423.6" font-size="25.2" fill="#ffffff" stroke="#ffffff" stroke-width="0.4" font-weight="normal" textLength="91.5" lengthAdjust="spacingAndGlyphs" shape-rendering="auto">USDKRW</text>
<text x="1699.5" y="423.6" font-size="25.2" fill="#ffffff" stroke="#ffffff" stroke-width="0.4" font-weight="normal" textLength="86.5" lengthAdjust="spacingAndGlyphs" shape-rendering="auto">1322.17</text>
<text x="1699.5" y="453.2" font-size="25.2" fill="#c3e6df" stroke="#c3e6df" stroke-width="0.4" font-weight="normal" textLength="60" lengthAdjust="spacingAndGlyphs" shape-rendering="auto">14:00</text>
<text x="1699.5" y="489.1" font-size="25.2" fill="#ffffff" stroke="#ffffff" stroke-width="0.4" font-weight="normal" textLength="86.5" lengthAdjust="spacingAndGlyphs" shape-rendering="auto">1321.85</text>
<g fill="#131722" shape-rendering="auto">
<path d="M13 808H22.9V819.7H17.7V812.9H13z"/>
<circle cx="26.8" cy="810.5" r="2.5"/>
<path d="M31.7 808H37.3L32.6 819.7H27z"/>
</g>
<text x="42.0" y="819.7" font-size="15" fill="#20242e" stroke="#20242e" stroke-width="0.15" font-weight="normal" textLength="87.4" lengthAdjust="spacingAndGlyphs" shape-rendering="auto">TradingView</text>
</svg>
</body></html>
